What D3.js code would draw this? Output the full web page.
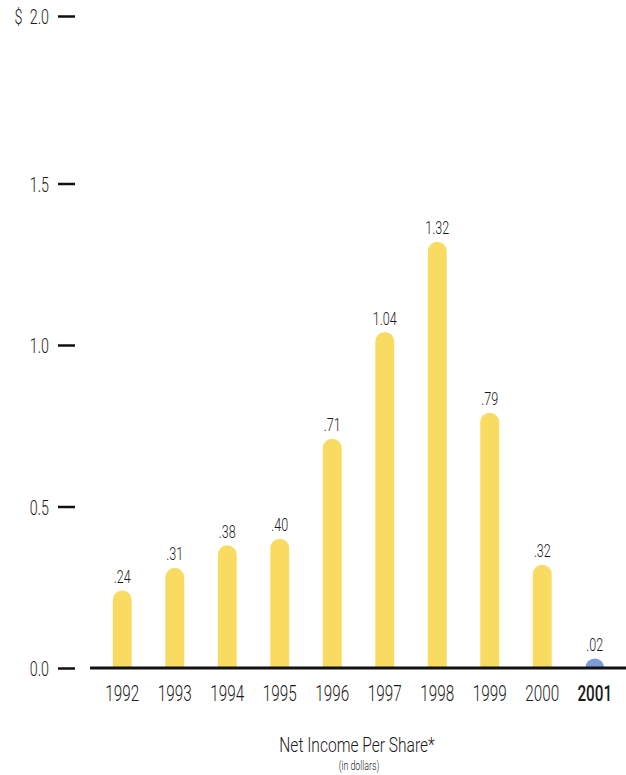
<!DOCTYPE html>
<html><head><meta charset="utf-8">
<script src="https://cdn.jsdelivr.net/npm/d3@7"></script>
<style>body{margin:0;background:#fff}svg{display:block}text{font-family:Roboto,"Liberation Sans",sans-serif;fill:#1a1a1a}</style>
</head><body><svg id="c" width="626" height="775"></svg>
<script>
const years = ["1992","1993","1994","1995","1996","1997","1998","1999","2000","2001"];
const values = [0.24,0.31,0.38,0.40,0.71,1.04,1.32,0.79,0.32,0.02];
const valueLabels = [".24",".31",".38",".40",".71","1.04","1.32",".79",".32",".02"];
const tickValues = [0,0.5,1.0,1.5,2.0];
const tickLabels = ["0.0","0.5","1.0","1.5","$\u20022.0"];
const highlight = "2001";

const SX = 0.68; // horizontal condensing of the type
const svg = d3.select("#c");
const y = d3.scaleLinear().domain([0,1.5,2]).range([668,183.5,16]);
const x = d3.scaleBand().domain(years).range([96,621]).paddingInner(0.64).paddingOuter(0.32);
const bw = x.bandwidth();

function condense(sel, sx){
  sel.each(function(){
    const t = d3.select(this);
    const tx = +t.attr("x") || 0, ty = +t.attr("y") || 0;
    t.attr("x",0).attr("y",0).attr("transform",`translate(${tx},${ty}) scale(${sx},1)`);
  });
}

// y axis ticks
const yAxis = d3.axisLeft(y).tickValues(tickValues).tickSize(17).tickPadding(9)
  .tickFormat((d,i)=>tickLabels[i]);
const gy = svg.append("g").attr("transform","translate(75,0)").call(yAxis);
gy.select(".domain").remove();
gy.selectAll(".tick line").attr("stroke","#111").attr("stroke-width",2.5);
gy.selectAll(".tick text").attr("font-size",21).style("font-weight",300)
  .attr("fill","#1a1a1a").attr("dy",null).attr("y",7.5);
condense(gy.selectAll(".tick text"), SX);

// bars
const r = bw/2;
function barPath(v, cx){
  const base = y(0);
  const top = Math.min(y(v), base - r);
  const l = cx - r, rr = cx + r;
  return `M${l},${base}L${l},${top+r}A${r},${r} 0 0 1 ${rr},${top+r}L${rr},${base}Z`;
}
svg.append("g").selectAll("path").data(years).join("path")
  .attr("d",(d,i)=>barPath(values[i], x(d)+bw/2))
  .attr("fill",d=>d===highlight?"#7d9bd6":"#f9db62");

// value labels
const vl = svg.append("g").selectAll("text").data(years).join("text")
  .attr("x",d=>x(d)+bw/2)
  .attr("y",(d,i)=>Math.min(y(values[i]), y(0)-r)-7.5)
  .attr("text-anchor","middle").attr("font-size",18.5).style("font-weight",300)
  .text((d,i)=>valueLabels[i]);
condense(vl, SX);

// baseline
svg.append("line").attr("x1",90).attr("x2",626).attr("y1",y(0)).attr("y2",y(0))
  .attr("stroke","#111").attr("stroke-width",3);

// x labels
const xAxis = d3.axisBottom(x).tickSize(0).tickPadding(0);
const gx = svg.append("g").attr("transform",`translate(0,${y(0)})`).call(xAxis);
gx.select(".domain").remove();
gx.selectAll(".tick text").attr("font-size",22.5).attr("fill","#1a1a1a").attr("dy",null).attr("y",33)
  .style("font-weight",d=>d===highlight?500:300);
condense(gx.selectAll(".tick text"), SX);

// titles
const t1 = svg.append("text").attr("x",357).attr("y",752).attr("text-anchor","middle").attr("font-size",20.5).style("font-weight",300).text("Net Income Per Share*");
condense(t1, 0.76);
const t2 = svg.append("text").attr("x",359).attr("y",770).attr("text-anchor","middle").attr("font-size",13).style("font-weight",300).text("(in dollars)");
condense(t2, 0.68);
</script></body></html>
